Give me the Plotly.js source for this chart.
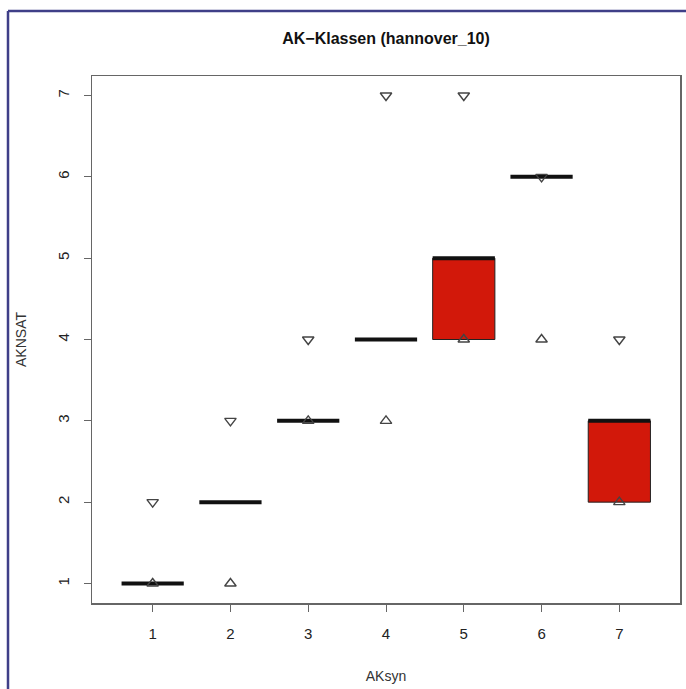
<!DOCTYPE html>
<html>
<head>
<meta charset="utf-8">
<script src="https://cdn.plot.ly/plotly-3.0.1.min.js"></script>
<style>html,body{margin:0;padding:0;background:#fff;}#chart{width:686px;height:689px;}</style>
</head>
<body>
<div id="chart"></div>
<script>
// Data
var categories = [1, 2, 3, 4, 5, 6, 7];
var boxLower   = [1, 2, 3, 4, 4, 6, 2];
var boxUpper   = [1, 2, 3, 4, 5, 6, 3];
var medians    = [1, 2, 3, 4, 5, 6, 3];
var upperMarks = [2, 3, 4, 7, 7, 6, 4];   // down-pointing triangles
var lowerMarks = [1, 1, 3, 3, 4, 4, 2];   // up-pointing triangles
var tickVals   = [1, 2, 3, 4, 5, 6, 7];

var halfW = 0.4;

// boxes (only where box has height)
var bx = [], bbase = [], bh = [];
categories.forEach(function (c, i) {
  if (boxUpper[i] > boxLower[i]) { bx.push(c); bbase.push(boxLower[i]); bh.push(boxUpper[i] - boxLower[i]); }
});
var boxes = {
  type: 'bar', x: bx, y: bh, base: bbase, width: 2 * halfW,
  marker: { color: 'rgb(210,24,10)', line: { color: '#222', width: 1 } },
  hoverinfo: 'skip', showlegend: false
};

// median segments
var mx = [], my = [];
categories.forEach(function (c, i) {
  mx.push(c - halfW, c + halfW, null);
  my.push(medians[i], medians[i], null);
});
var medianLines = {
  type: 'scatter', mode: 'lines', x: mx, y: my,
  line: { color: '#111', width: 4 }, hoverinfo: 'skip', showlegend: false
};

var downTri = {
  type: 'scatter', mode: 'markers', x: categories, y: upperMarks,
  marker: { symbol: 'triangle-down-open', size: 10, color: '#444', line: { width: 1.4 } },
  showlegend: false
};
var upTri = {
  type: 'scatter', mode: 'markers', x: categories, y: lowerMarks,
  marker: { symbol: 'triangle-up-open', size: 10, color: '#444', line: { width: 1.4 } },
  showlegend: false
};

var fontFam = 'Liberation Sans, Arial, sans-serif';
var layout = {
  width: 686, height: 689,
  margin: { l: 92, r: 6, t: 76, b: 86 },
  paper_bgcolor: '#ffffff', plot_bgcolor: '#ffffff',
  font: { family: fontFam, color: '#222', size: 14 },
  title: {
    text: 'AK\u2212Klassen (hannover_10)',
    font: { family: fontFam, size: 16, color: '#111', weight: 'bold' },
    x: 0.5, xref: 'paper', y: 1 - 38 / 689, yref: 'container', yanchor: 'middle'
  },
  xaxis: {
    range: [0.22, 7.78], tickvals: tickVals, ticktext: tickVals.map(String),
    ticks: 'outside', ticklen: 7, tickcolor: '#666', tickwidth: 1,
    showgrid: false, zeroline: false,
    showline: true, mirror: true, linecolor: '#666', linewidth: 1.5,
    tickfont: { size: 15, color: '#222' }, ticklabelstandoff: 9,
    title: { text: 'AKsyn', font: { size: 14, color: '#333' }, standoff: 30 }
  },
  yaxis: {
    range: [0.76, 7.24], tickvals: tickVals, ticktext: tickVals.map(String),
    ticks: 'outside', ticklen: 7, tickcolor: '#666', tickwidth: 1, tickangle: -90,
    showgrid: false, zeroline: false,
    showline: true, mirror: true, linecolor: '#666', linewidth: 1.5,
    tickfont: { size: 15, color: '#222' }, ticklabelstandoff: 9,
    title: { text: 'AKNSAT', font: { size: 14, color: '#333' }, standoff: 24 }
  },
  shapes: [
    { type: 'line', xref: 'paper', yref: 'paper', x0: -84 / 588, x1: -84 / 588, y0: 592 / 527, y1: -2, line: { color: '#3f3f88', width: 2.5 } },
    { type: 'line', xref: 'paper', yref: 'paper', x0: -84 / 588, x1: 2, y0: 592 / 527, y1: 592 / 527, line: { color: '#3f3f88', width: 2.5 } }
  ],
  showlegend: false, bargap: 0
};

Plotly.newPlot('chart', [boxes, medianLines, downTri, upTri], layout, { displayModeBar: false, staticPlot: true });
</script>
</body>
</html>
